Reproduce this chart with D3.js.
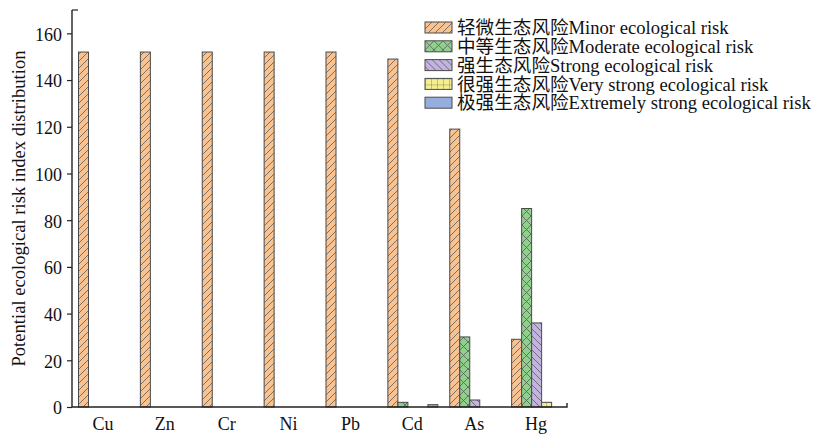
<!DOCTYPE html>
<html>
<head>
<meta charset="utf-8">
<script src="https://cdn.jsdelivr.net/npm/d3@7/dist/d3.min.js"></script>
<style>
  html, body { margin: 0; padding: 0; background: #fff; }
  svg text { font-family: "Liberation Serif", "Times New Roman", "Noto Sans CJK SC", serif; }
</style>
</head>
<body>
<svg id="chart" width="815" height="434"></svg>
<script>
// Heavy metals along the x axis
const metals = ["Cu", "Zn", "Cr", "Ni", "Pb", "Cd", "As", "Hg"];

// Risk grades (legend entries)
const grades = [
  "轻微生态风险Minor ecological risk",
  "中等生态风险Moderate ecological risk",
  "强生态风险Strong ecological risk",
  "很强生态风险Very strong ecological risk",
  "极强生态风险Extremely strong ecological risk"
];

// Sample counts for each grade, one entry per metal
const minorRisk       = [152, 152, 152, 152, 152, 149, 119, 29];
const moderateRisk    = [0, 0, 0, 0, 0, 2, 30, 85];
const strongRisk      = [0, 0, 0, 0, 0, 0, 3, 36];
const veryStrongRisk  = [0, 0, 0, 0, 0, 0, 0, 2];
const extremeRisk     = [0, 0, 0, 0, 0, 1, 0, 0];

const yTicks = [0, 20, 40, 60, 80, 100, 120, 140, 160];

const series = [minorRisk, moderateRisk, strongRisk, veryStrongRisk, extremeRisk];
const fills = ["#F8C390", "#8FD08C", "#C2B3DF", "#F6EF90", "#90AADC"];
const hatchColor = "#5a5a5a";

const svg = d3.select("#chart");
const margin = { left: 72, right: 248, top: 10, bottom: 27 };
const W = 815, H = 434;

const x = d3.scaleBand().domain(metals).range([margin.left, W - margin.right]).paddingInner(0).paddingOuter(0);
const y = d3.scaleLinear().domain([0, 170]).range([H - margin.bottom, margin.top]);
const groupPad = 6;
const xs = d3.scaleBand().domain(d3.range(grades.length)).range([groupPad, groupPad + 50]);

// Fill patterns
const defs = svg.append("defs");
function pattern(id, size, bg, draw) {
  const p = defs.append("pattern").attr("id", id).attr("patternUnits", "userSpaceOnUse")
    .attr("width", size).attr("height", size);
  p.append("rect").attr("width", size).attr("height", size).attr("fill", bg);
  draw(p, size);
}
pattern("p0", 7, fills[0], (p, s) => {
  p.append("path").attr("d", `M0,${s} L${s},0 M${-s/2},${s/2} L${s/2},${-s/2} M${s/2},${s*1.5} L${s*1.5},${s/2}`)
    .attr("stroke", hatchColor).attr("stroke-width", 0.8);
});
pattern("p1", 9, fills[1], (p, s) => {
  p.append("path").attr("d", `M0,0 L${s},${s} M0,${s} L${s},0`)
    .attr("stroke", hatchColor).attr("stroke-width", 0.8);
});
pattern("p2", 7, fills[2], (p, s) => {
  p.append("path").attr("d", `M0,0 L${s},${s} M${-s/2},${s/2} L${s/2},${s*1.5} M${s/2},${-s/2} L${s*1.5},${s/2}`)
    .attr("stroke", hatchColor).attr("stroke-width", 0.8);
});
pattern("p3", 6, fills[3], (p, s) => {
  p.append("path").attr("d", `M0,0 L${s},0 M0,0 L0,${s}`)
    .attr("stroke", hatchColor).attr("stroke-width", 0.7);
});
pattern("p4", 3, fills[4], (p, s) => {
  p.append("path").attr("d", `M0,${s} L${s},0`)
    .attr("stroke", "#a9bde4").attr("stroke-width", 0.6);
});

// Bars
const g = svg.append("g");
series.forEach((vals, si) => {
  g.selectAll(null).data(metals.map((m, i) => ({ m, v: vals[i] })).filter(d => d.v > 0))
    .enter().append("rect")
    .attr("x", d => x(d.m) + xs(si) + 0.5)
    .attr("y", d => y(d.v))
    .attr("width", xs.bandwidth())
    .attr("height", d => y(0) - y(d.v))
    .attr("fill", `url(#p${si})`)
    .attr("stroke", "#4a4a4a")
    .attr("stroke-width", 1);
});

// Y axis
const yAxis = d3.axisLeft(y).tickValues(yTicks).tickSize(5).tickPadding(5);
const ya = svg.append("g").attr("transform", `translate(${margin.left},0)`).call(yAxis);
ya.attr("font-family", null).attr("font-size", null);
ya.select(".domain").attr("d", `M0,${y(0)}V${y(170)}`).attr("stroke", "#222").attr("stroke-width", 1.4);
ya.selectAll(".tick line").attr("stroke", "#222").attr("stroke-width", 1.2);
ya.selectAll(".tick text").attr("font-size", 18).attr("fill", "#111").attr("dy", "0.38em");
svg.append("line").attr("x1", margin.left).attr("x2", margin.left + 6)
  .attr("y1", y(170)).attr("y2", y(170)).attr("stroke", "#222").attr("stroke-width", 1.2);

// X axis
const xAxis = d3.axisBottom(x).tickSize(0).tickPadding(10);
const xa = svg.append("g").attr("transform", `translate(0,${y(0)})`).call(xAxis);
xa.attr("font-family", null).attr("font-size", null);
xa.select(".domain").attr("d", `M${margin.left},0H${W - margin.right}V-4`).attr("stroke", "#222").attr("stroke-width", 1.4).attr("fill", "none");
xa.selectAll(".tick text").attr("font-size", 18).attr("fill", "#111");

// Y axis title
svg.append("text")
  .attr("transform", `translate(25,${(y(0) + y(170)) / 2}) rotate(-90)`)
  .attr("text-anchor", "middle")
  .attr("font-size", 18.6)
  .attr("fill", "#111")
  .text("Potential ecological risk index distribution");

// Legend
const lg = svg.append("g").attr("transform", "translate(425,22)");
grades.forEach((name, i) => {
  const row = lg.append("g").attr("transform", `translate(0,${i * 18.8})`);
  row.append("rect").attr("width", 27).attr("height", 11)
    .attr("fill", `url(#p${i})`).attr("stroke", "#4a4a4a").attr("stroke-width", 1);
  row.append("text").attr("x", 32).attr("y", 5.5).attr("dy", "0.36em")
    .attr("font-size", 18.6)
    .attr("fill", "#111")
    .text(name);
});
</script>
</body>
</html>
